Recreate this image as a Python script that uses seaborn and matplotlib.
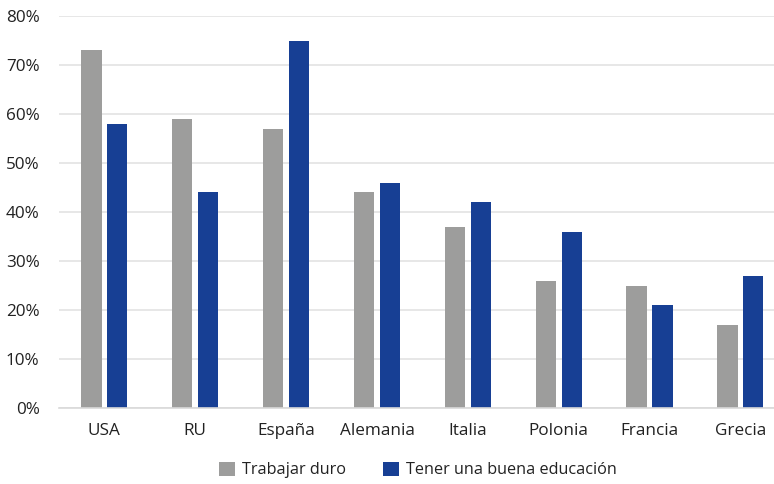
import matplotlib
matplotlib.use("Agg")
import matplotlib.pyplot as plt
import seaborn as sns
import pandas as pd
from matplotlib.patches import Patch
from matplotlib.ticker import PercentFormatter

paises = ["USA", "RU", "España", "Alemania", "Italia", "Polonia", "Francia", "Grecia"]
trabajar_duro = [73, 59, 57, 44, 37, 26, 25, 17]
buena_educacion = [58, 44, 75, 46, 42, 36, 21, 27]
series = ["Trabajar duro", "Tener una buena educación"]
colores = ["#9d9d9c", "#173f94"]

df = pd.DataFrame({
    "pais": paises * 2,
    "valor": trabajar_duro + buena_educacion,
    "serie": [series[0]] * len(paises) + [series[1]] * len(paises),
})

sns.set_theme(style="white")
plt.rcParams["font.family"] = ["Open Sans", "DejaVu Sans"]

fig = plt.figure(figsize=(7.74, 4.84), dpi=100)
ax = fig.add_axes([59 / 774, 1 - 408 / 484, 715 / 774, 392 / 484])

sns.barplot(data=df, x="pais", y="valor", hue="serie", palette=colores,
            width=0.57, gap=0.22, ax=ax, legend=False, saturation=1,
            edgecolor="none", linewidth=0)

# the category band continues a little past the right edge of the figure
ax.set_ylim(0, 80)
ax.set_xlim(-0.5, len(paises) - 0.63)
ax.set_yticks(range(0, 81, 10))
ax.yaxis.set_major_formatter(PercentFormatter(decimals=0))
ax.grid(axis="y", color="#e3e3e3", linewidth=1.2)
ax.set_axisbelow(True)
for s in ["top", "right", "left"]:
    ax.spines[s].set_visible(False)
ax.spines["bottom"].set_color("#d9d9d9")
ax.spines["bottom"].set_linewidth(1.2)
ax.set_xlabel("")
ax.set_ylabel("")
ax.tick_params(axis="both", length=0, labelsize=12.3, colors="#222222")
ax.tick_params(axis="y", pad=14)
ax.tick_params(axis="x", pad=11)

handles = [Patch(facecolor=c, edgecolor="none") for c in colores]
fig.legend(handles, series, loc="center", bbox_to_anchor=(418 / 774, 1 - 470 / 484),
           ncol=2, frameon=False, fontsize=11.7, handlelength=0.95, handleheight=0.95,
           handletextpad=0.45, columnspacing=2.3, labelcolor="#222222")

fig.savefig("out.png", dpi=100)
